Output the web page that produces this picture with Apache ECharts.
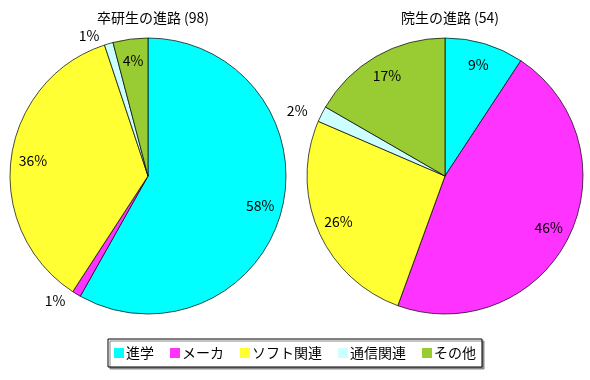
<!DOCTYPE html>
<html><head><meta charset="utf-8">
<script src="https://cdn.jsdelivr.net/npm/echarts@6/dist/echarts.min.js"></script>
<style>html,body{margin:0;padding:0;background:#fff}#c{width:590px;height:380px}</style>
</head><body><div id="c"></div>
<script>
const categories = ['進学', 'メーカ', 'ソフト関連', '通信関連', 'その他'];
const titles = ['卒研生の進路 (98)', '院生の進路 (54)'];
const undergradValues = [57, 1, 35, 1, 4];
const gradValues = [5, 25, 14, 1, 9];
const colors = ['#00FFFF', '#FF33FF', '#FFFF33', '#CCFFFF', '#99CC33'];
const FONT = '"Noto Sans CJK JP", "Noto Sans", sans-serif';

function pct(v, arr) { return v / arr.reduce((a, b) => a + b, 0); }

function makeSeries(values, cx) {
  const small = values.map(v => pct(v, values) < 0.03);
  const main = {
    type: 'pie', center: [cx, 176], radius: [0, 138], startAngle: 90, clockwise: true,
    silent: true, animation: false,
    itemStyle: { borderColor: '#000', borderWidth: 0.7 },
    label: { show: true, position: 'outside', color: '#000', fontSize: 14, fontFamily: FONT,
      formatter: p => Math.round(p.percent) + '%' },
    labelLine: { show: false, length: 8, length2: 2 },
    data: values.map((v, i) => ({ name: categories[i], value: v,
      itemStyle: { color: colors[i] }, label: { show: small[i] } }))
  };
  const overlay = {
    type: 'pie', center: [cx, 176], radius: [88, 138], startAngle: 90, clockwise: true,
    silent: true, animation: false, legendHoverLink: false,
    itemStyle: { color: 'rgba(0,0,0,0)', borderWidth: 0 },
    label: { show: true, position: 'inside', color: '#000', fontSize: 14, fontFamily: FONT,
      formatter: p => Math.round(p.percent) + '%' },
    labelLine: { show: false },
    data: values.map((v, i) => ({ name: categories[i] + ' ', value: v,
      label: { show: !small[i] } }))
  };
  return [main, overlay];
}

const chart = echarts.init(document.getElementById('c'), null, { renderer: 'canvas' });
chart.setOption({
  animation: false,
  title: [
    { text: titles[0], left: 148, top: 6, textAlign: 'center',
      textStyle: { fontSize: 14, fontWeight: 'normal', color: '#000', fontFamily: FONT } },
    { text: titles[1], left: 445, top: 6, textAlign: 'center',
      textStyle: { fontSize: 14, fontWeight: 'normal', color: '#000', fontFamily: FONT } }
  ],
  legend: {
    data: categories, left: 'center', top: 339, itemWidth: 10, itemHeight: 10, itemGap: 16,
    icon: 'rect', padding: [7, 6, 7, 6],
    itemStyle: { borderWidth: 0 },
    borderColor: '#000', borderWidth: 1, backgroundColor: '#fff',
    shadowColor: '#888', shadowOffsetX: 2, shadowOffsetY: 2, shadowBlur: 0,
    textStyle: { fontSize: 14, color: '#000', fontFamily: FONT, padding: [0, 0, 0, -3] },
    selectedMode: false
  },
  series: [...makeSeries(undergradValues, 148), ...makeSeries(gradValues, 445)]
});
</script></body></html>
